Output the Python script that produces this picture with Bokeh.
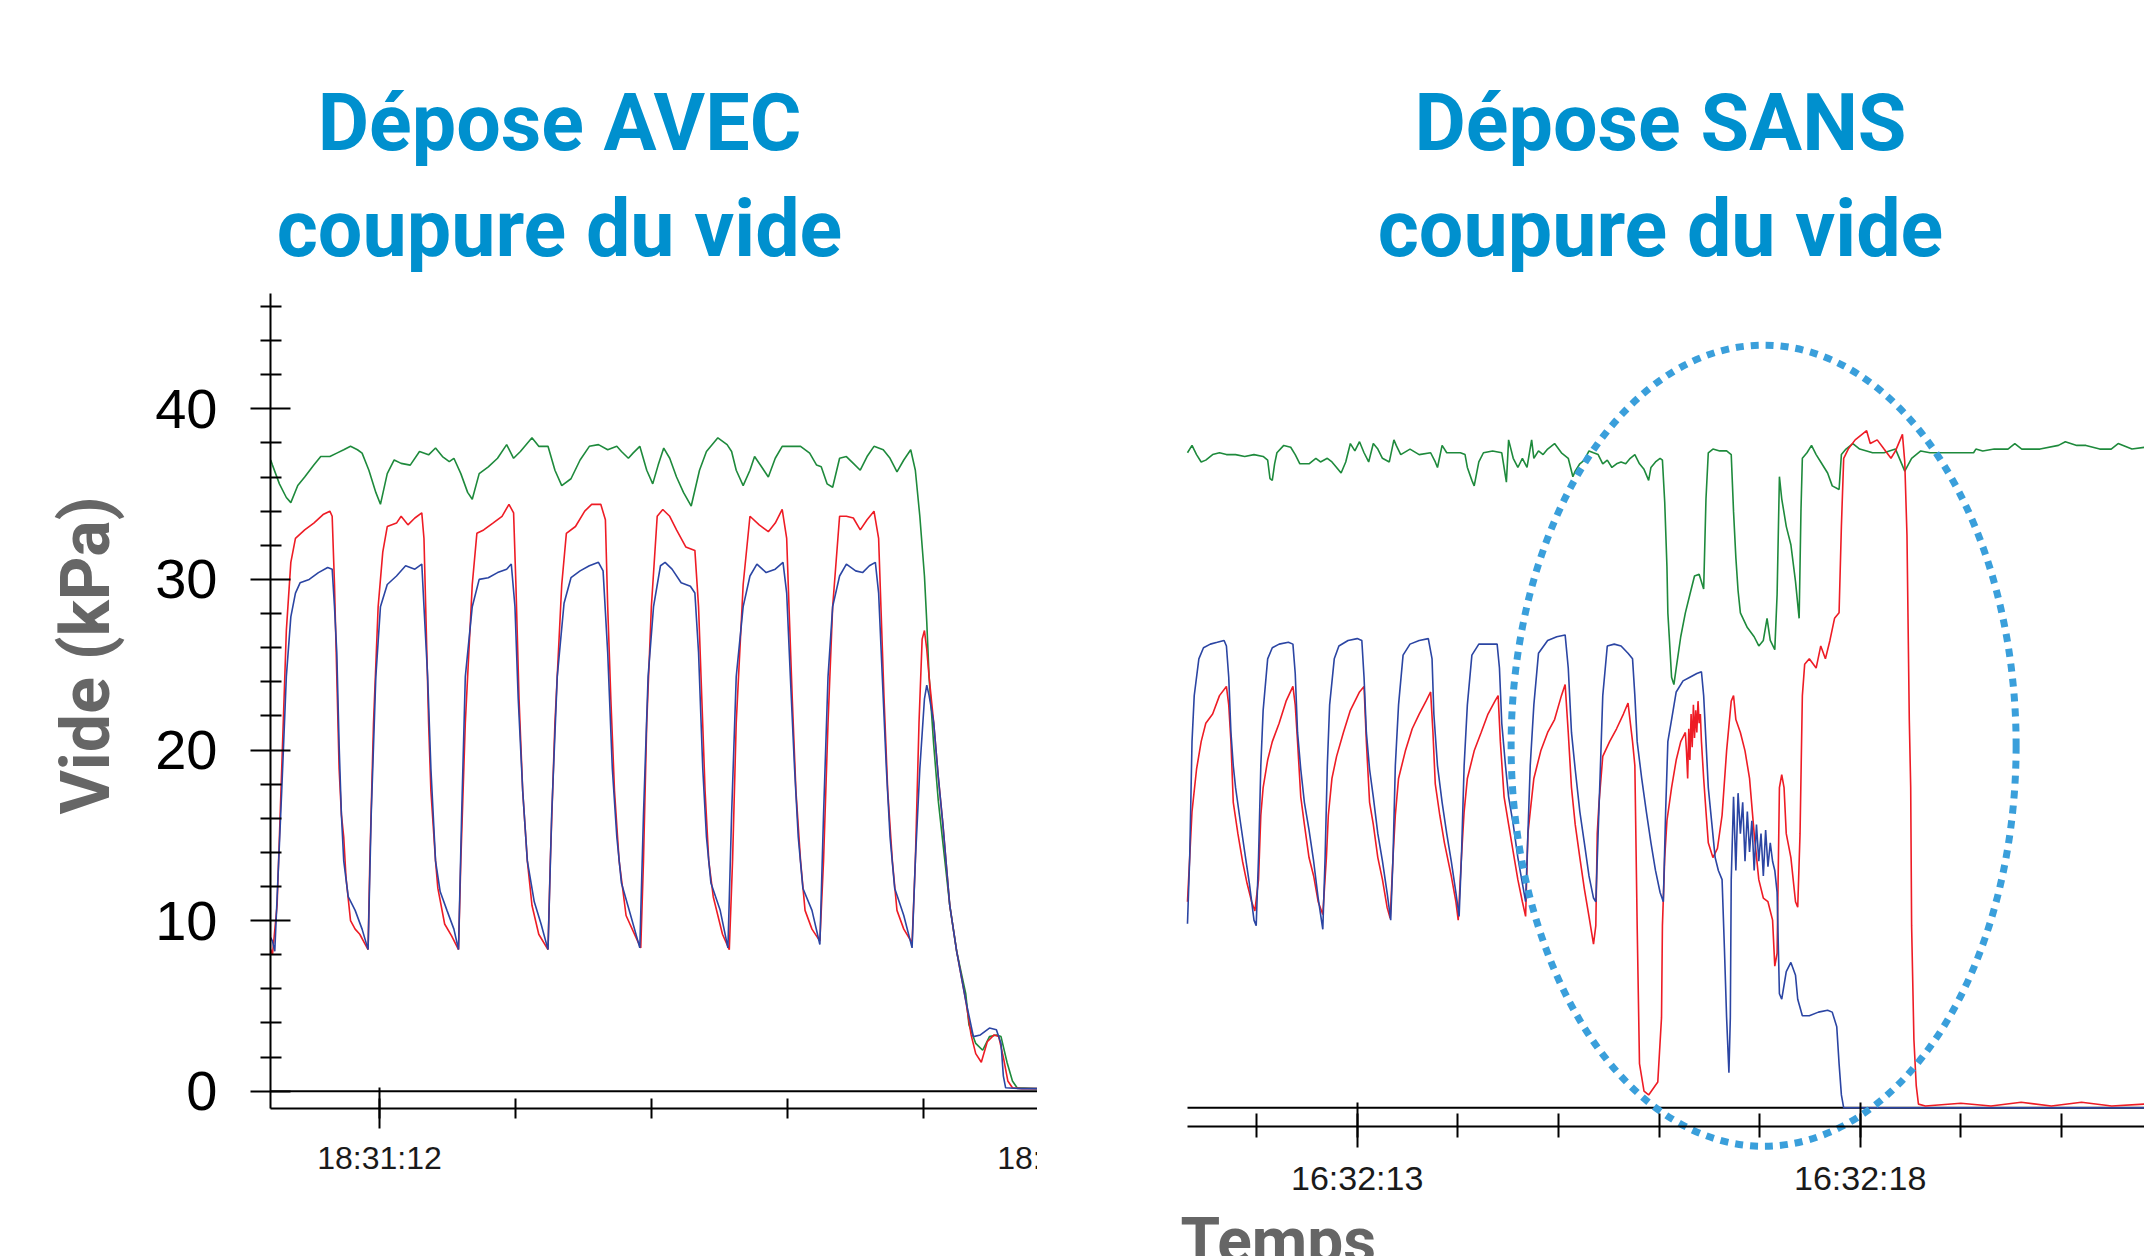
import math
from bokeh.plotting import figure
from bokeh.models import Range1d, FixedTicker, Label
from bokeh.layouts import row
from bokeh.embed import file_html
from bokeh.resources import INLINE

# ------------------------------------------------------------------ data
y_ticks = [0, 10, 20, 30, 40]
y_minor = [2, 4, 6, 8, 12, 14, 16, 18, 22, 24, 26, 28, 32, 34, 36, 38, 42, 44, 46]

avec_ticks = [12, 17]
avec_tick_labels = ["18:31:12", "18:31:17"]
avec_minor = [12, 13, 14, 15, 16]

sans_ticks = [13, 18]
sans_tick_labels = ["16:32:13", "16:32:18"]
sans_minor = [12, 13, 14, 15, 16, 17, 18, 19, 20]

# (seconds, kPa) -- "Dépose AVEC coupure du vide"
avec_vert = [
    (11.200, 37.0), (11.213, 36.7), (11.264, 35.6), (11.315, 34.8), (11.348, 34.5), (11.399, 35.5), (11.450, 36.0),
    (11.517, 36.7), (11.568, 37.2), (11.635, 37.2), (11.686, 37.4), (11.737, 37.6), (11.787, 37.8), (11.838, 37.6),
    (11.872, 37.4), (11.922, 36.4), (11.973, 35.1), (12.007, 34.4), (12.057, 36.2), (12.108, 37.0), (12.159, 36.8),
    (12.226, 36.7), (12.294, 37.5), (12.361, 37.3), (12.412, 37.7), (12.463, 37.2), (12.513, 36.9), (12.547, 37.1),
    (12.598, 36.2), (12.648, 35.1), (12.682, 34.7), (12.733, 36.2), (12.800, 36.6), (12.868, 37.1), (12.935, 37.9),
    (12.986, 37.1), (13.036, 37.5), (13.121, 38.3), (13.171, 37.8), (13.239, 37.8), (13.290, 36.4), (13.340, 35.5),
    (13.408, 35.9), (13.475, 37.0), (13.543, 37.8), (13.610, 37.9), (13.678, 37.6), (13.745, 37.8), (13.779, 37.5),
    (13.830, 37.1), (13.864, 37.4), (13.914, 37.8), (13.965, 36.4), (14.009, 35.6), (14.049, 36.7), (14.090, 37.7),
    (14.134, 37.1), (14.184, 36.0), (14.235, 35.1), (14.292, 34.3), (14.353, 36.4), (14.404, 37.5), (14.488, 38.3),
    (14.556, 37.9), (14.589, 37.5), (14.623, 36.4), (14.674, 35.5), (14.724, 36.4), (14.758, 37.2), (14.809, 36.6),
    (14.859, 36.0), (14.910, 37.1), (14.961, 37.8), (15.028, 37.8), (15.096, 37.8), (15.163, 37.4), (15.214, 36.7),
    (15.248, 36.6), (15.291, 35.6), (15.332, 35.4), (15.383, 37.1), (15.433, 37.2), (15.484, 36.8), (15.535, 36.4),
    (15.585, 37.2), (15.636, 37.8), (15.704, 37.6), (15.754, 37.1), (15.805, 36.3), (15.855, 37.0), (15.906, 37.6),
    (15.940, 36.4), (15.973, 33.7), (16.007, 30.2), (16.024, 27.5), (16.041, 24.3), (16.075, 20.3), (16.109, 17.0),
    (16.142, 14.6), (16.193, 10.9), (16.244, 8.2), (16.311, 5.7), (16.334, 3.9), (16.384, 2.8), (16.435, 2.4),
    (16.485, 3.2), (16.536, 3.3), (16.570, 3.2), (16.614, 1.7), (16.654, 0.6), (16.688, 0.2), (16.838, 0.15),
]
avec_rouge = [
    (11.200, 8.3), (11.213, 8.0), (11.247, 10.9), (11.281, 18.9), (11.315, 27.0), (11.348, 31.0), (11.382, 32.4),
    (11.450, 32.9), (11.517, 33.3), (11.585, 33.8), (11.635, 34.0), (11.652, 33.7), (11.669, 29.7), (11.686, 24.3),
    (11.703, 18.9), (11.720, 16.2), (11.737, 14.9), (11.754, 12.5), (11.787, 10.0), (11.821, 9.5), (11.855, 9.2),
    (11.889, 8.7), (11.916, 8.3),
    (11.929, 13.5), (11.956, 21.6), (11.990, 28.4), (12.024, 31.6), (12.057, 33.1), (12.125, 33.3), (12.159, 33.7),
    (12.209, 33.2), (12.260, 33.6), (12.311, 33.9), (12.327, 32.4), (12.344, 27.0), (12.361, 21.6), (12.378, 17.6),
    (12.412, 13.5), (12.429, 11.9), (12.479, 9.8), (12.530, 9.1), (12.581, 8.3),
    (12.598, 13.5), (12.631, 21.6), (12.682, 29.7), (12.716, 32.7), (12.766, 32.9), (12.834, 33.3), (12.901, 33.7),
    (12.952, 34.4), (12.986, 33.9), (13.003, 29.7), (13.026, 23.0), (13.053, 17.6), (13.087, 13.5), (13.121, 10.9),
    (13.171, 9.2), (13.239, 8.3),
    (13.256, 13.5), (13.290, 21.6), (13.340, 29.7), (13.374, 32.7), (13.441, 33.1), (13.509, 34.0), (13.560, 34.4),
    (13.627, 34.4), (13.661, 33.5), (13.678, 28.4), (13.701, 23.0), (13.728, 17.6), (13.762, 13.5), (13.813, 10.3),
    (13.864, 9.4), (13.921, 8.4),
    (13.941, 13.5), (13.965, 21.6), (13.999, 28.4), (14.042, 33.7), (14.083, 34.1), (14.134, 33.7), (14.184, 32.9),
    (14.252, 31.9), (14.319, 31.7), (14.346, 28.4), (14.370, 23.0), (14.394, 17.6), (14.421, 13.5), (14.454, 11.4),
    (14.522, 9.2), (14.572, 8.3),
    (14.596, 13.5), (14.623, 21.6), (14.674, 29.7), (14.724, 33.7), (14.792, 33.2), (14.859, 32.8), (14.910, 33.3),
    (14.961, 34.1), (14.994, 32.4), (15.011, 28.4), (15.035, 23.0), (15.062, 17.6), (15.096, 13.5), (15.129, 10.6),
    (15.180, 9.5), (15.238, 8.8),
    (15.265, 13.5), (15.298, 21.6), (15.332, 28.4), (15.383, 33.7), (15.433, 33.7), (15.484, 33.6), (15.535, 32.9),
    (15.585, 33.5), (15.636, 34.0), (15.670, 32.4), (15.687, 28.4), (15.710, 23.0), (15.737, 17.6), (15.771, 13.5),
    (15.805, 10.6), (15.855, 9.5), (15.916, 8.7),
    (15.940, 13.5), (15.967, 21.6), (15.990, 26.5), (16.007, 27.0), (16.024, 25.9), (16.041, 24.3), (16.075, 21.6),
    (16.109, 18.4), (16.142, 15.7), (16.193, 10.9), (16.244, 8.2), (16.311, 5.3), (16.350, 3.3), (16.384, 2.2),
    (16.425, 1.7), (16.469, 2.9), (16.519, 3.3), (16.553, 3.2), (16.587, 2.0), (16.620, 0.6), (16.654, 0.2),
    (16.722, 0.15), (16.838, 0.15),
]
avec_bleu = [
    (11.200, 9.0), (11.213, 8.8), (11.230, 8.2), (11.281, 17.6), (11.315, 24.3), (11.348, 27.8), (11.382, 29.2),
    (11.416, 29.8), (11.483, 30.0), (11.551, 30.4), (11.619, 30.7), (11.652, 30.6), (11.669, 28.4), (11.686, 25.7),
    (11.703, 20.3), (11.720, 16.2), (11.737, 13.5), (11.770, 11.4), (11.821, 10.6), (11.872, 9.5), (11.916, 8.3),
    (11.939, 16.2), (11.973, 24.3), (12.007, 28.4), (12.057, 29.7), (12.125, 30.2), (12.192, 30.8), (12.260, 30.6),
    (12.311, 30.9), (12.327, 28.4), (12.354, 24.3), (12.378, 18.9), (12.412, 13.5), (12.446, 11.7), (12.496, 10.6),
    (12.547, 9.5), (12.581, 8.3),
    (12.604, 16.2), (12.631, 24.3), (12.682, 28.4), (12.733, 30.0), (12.800, 30.1), (12.868, 30.4), (12.935, 30.6),
    (12.969, 30.9), (12.996, 28.4), (13.020, 23.0), (13.053, 17.6), (13.087, 13.5), (13.138, 11.1), (13.188, 9.8),
    (13.239, 8.3),
    (13.266, 16.2), (13.307, 24.3), (13.357, 28.6), (13.408, 30.1), (13.475, 30.5), (13.543, 30.8), (13.610, 31.0),
    (13.644, 30.5), (13.678, 25.7), (13.712, 18.9), (13.745, 14.9), (13.779, 12.2), (13.847, 10.3), (13.914, 8.4),
    (13.941, 16.2), (13.975, 24.3), (14.015, 28.4), (14.066, 30.8), (14.100, 31.0), (14.151, 30.6), (14.218, 29.8),
    (14.286, 29.6), (14.319, 29.2), (14.346, 25.7), (14.377, 18.9), (14.404, 14.9), (14.437, 12.2), (14.505, 10.6),
    (14.562, 8.4),
    (14.589, 16.2), (14.623, 24.3), (14.674, 28.4), (14.724, 30.2), (14.775, 30.9), (14.843, 30.4), (14.910, 30.6),
    (14.967, 31.0), (14.994, 29.2), (15.021, 24.3), (15.052, 18.9), (15.079, 14.9), (15.113, 11.9), (15.180, 10.6),
    (15.238, 8.6),
    (15.265, 16.2), (15.298, 24.3), (15.332, 28.4), (15.383, 30.2), (15.433, 30.9), (15.501, 30.5), (15.552, 30.4),
    (15.602, 30.8), (15.646, 31.0), (15.670, 29.2), (15.697, 24.3), (15.727, 18.9), (15.754, 14.9), (15.788, 11.9),
    (15.855, 10.3), (15.916, 8.4),
    (15.940, 13.5), (15.973, 18.9), (16.007, 23.0), (16.024, 23.8), (16.041, 23.2), (16.075, 21.6), (16.109, 18.4),
    (16.142, 15.7), (16.193, 10.9), (16.244, 8.2), (16.311, 5.3), (16.367, 3.2), (16.418, 3.3), (16.485, 3.7),
    (16.536, 3.6), (16.570, 2.8), (16.587, 0.9), (16.604, 0.2), (16.722, 0.15), (16.838, 0.15),
]

# (seconds, kPa) -- "Dépose SANS coupure du vide"
sans_vert = [
    (11.313, 35.6), (11.358, 36.0), (11.403, 35.5), (11.449, 35.1), (11.495, 35.2), (11.563, 35.5), (11.631, 35.6),
    (11.700, 35.5), (11.791, 35.5), (11.882, 35.4), (11.974, 35.5), (12.065, 35.4), (12.110, 35.2), (12.133, 34.2),
    (12.156, 34.1), (12.179, 35.0), (12.202, 35.6), (12.270, 36.0), (12.339, 35.9), (12.384, 35.5), (12.430, 35.0),
    (12.521, 35.0), (12.589, 35.3), (12.635, 35.1), (12.703, 35.3), (12.749, 35.1), (12.795, 34.8), (12.840, 34.5),
    (12.886, 35.1), (12.932, 36.1), (12.977, 35.7), (13.023, 36.2), (13.068, 35.6), (13.114, 35.1), (13.160, 36.1),
    (13.205, 35.8), (13.251, 35.3), (13.319, 35.1), (13.365, 36.3), (13.388, 36.0), (13.433, 35.5), (13.525, 35.8),
    (13.616, 35.5), (13.730, 35.6), (13.776, 35.1), (13.798, 34.8), (13.844, 36.0), (13.890, 35.6), (14.026, 35.6),
    (14.072, 35.5), (14.095, 34.8), (14.140, 34.1), (14.163, 33.8), (14.209, 35.1), (14.255, 35.6), (14.346, 35.7),
    (14.437, 35.6), (14.483, 34.0), (14.505, 36.3), (14.551, 35.3), (14.597, 34.8), (14.642, 35.3), (14.688, 34.8),
    (14.734, 36.3), (14.756, 35.3), (14.802, 35.7), (14.848, 35.5), (14.893, 35.8), (14.962, 36.1), (15.030, 35.6),
    (15.098, 35.3), (15.144, 34.3), (15.167, 34.6), (15.213, 35.0), (15.258, 35.2), (15.304, 35.7), (15.349, 35.6),
    (15.395, 35.5), (15.441, 35.0), (15.486, 35.2), (15.532, 34.8), (15.578, 35.0), (15.623, 35.1), (15.669, 35.0),
    (15.714, 35.3), (15.760, 35.5), (15.806, 35.0), (15.851, 34.7), (15.897, 34.1), (15.920, 34.8), (15.965, 35.1),
    (16.011, 35.3), (16.034, 35.2), (16.057, 32.9), (16.079, 29.4), (16.088, 26.9), (16.102, 25.6), (16.125, 23.4),
    (16.148, 23.0), (16.171, 23.9), (16.216, 25.6), (16.262, 26.9), (16.307, 27.9), (16.353, 28.9), (16.399, 29.0),
    (16.444, 28.2), (16.467, 33.1), (16.490, 35.6), (16.536, 35.8), (16.604, 35.7), (16.672, 35.7), (16.718, 35.5),
    (16.741, 32.4), (16.764, 29.9), (16.786, 28.1), (16.809, 26.9), (16.878, 26.1), (16.946, 25.6), (16.992, 25.1),
    (17.037, 25.4), (17.074, 26.6), (17.106, 25.4), (17.151, 24.9), (17.174, 27.9), (17.197, 34.3), (17.220, 33.1),
    (17.265, 31.6), (17.311, 30.6), (17.357, 28.6), (17.393, 26.6), (17.411, 32.4), (17.425, 35.3), (17.471, 35.6),
    (17.516, 36.0), (17.562, 35.5), (17.608, 35.1), (17.676, 34.5), (17.722, 33.8), (17.790, 33.6), (17.813, 35.5),
    (17.859, 35.8), (17.927, 36.1), (17.995, 35.8), (18.064, 35.7), (18.123, 35.6), (18.237, 35.6), (18.351, 35.8),
    (18.443, 34.6), (18.511, 35.3), (18.602, 35.7), (18.693, 35.6), (18.830, 35.6), (18.922, 35.6), (19.127, 35.6),
    (19.150, 35.8), (19.218, 35.7), (19.332, 35.8), (19.469, 35.8), (19.537, 36.1), (19.606, 35.8), (19.788, 35.8),
    (19.971, 36.0), (20.039, 36.2), (20.153, 36.0), (20.244, 36.0), (20.381, 35.8), (20.495, 35.8), (20.564, 36.1),
    (20.701, 35.8), (20.830, 35.9),
]
sans_rouge = [
    (11.313, 11.2), (11.335, 13.6), (11.358, 16.1), (11.403, 18.4), (11.449, 19.9), (11.495, 20.9), (11.563, 21.4),
    (11.631, 22.4), (11.700, 22.9), (11.723, 21.9), (11.745, 19.9), (11.768, 16.6), (11.814, 14.9), (11.860, 13.4),
    (11.905, 12.2), (11.951, 11.2), (11.983, 10.7),
    (12.019, 12.4), (12.042, 15.9), (12.065, 17.4), (12.110, 18.9), (12.156, 19.9), (12.224, 20.9), (12.293, 22.1),
    (12.361, 22.9), (12.384, 21.9), (12.407, 19.9), (12.439, 16.9), (12.475, 15.4), (12.521, 13.6), (12.567, 12.6),
    (12.612, 11.2), (12.658, 10.5),
    (12.694, 13.6), (12.713, 15.9), (12.749, 17.9), (12.795, 19.1), (12.863, 20.4), (12.932, 21.6), (13.023, 22.6),
    (13.068, 22.9), (13.091, 19.9), (13.123, 16.6), (13.160, 15.4), (13.205, 13.6), (13.251, 12.4), (13.297, 10.9),
    (13.328, 10.3),
    (13.356, 13.6), (13.379, 15.9), (13.411, 17.9), (13.479, 19.4), (13.547, 20.6), (13.616, 21.4), (13.684, 22.1),
    (13.730, 22.6), (13.753, 20.4), (13.776, 17.6), (13.821, 15.9), (13.867, 14.4), (13.935, 12.6), (13.981, 11.2),
    (14.004, 10.2),
    (14.036, 13.6), (14.063, 16.1), (14.095, 17.9), (14.163, 19.4), (14.232, 20.4), (14.300, 21.4), (14.369, 22.1),
    (14.401, 22.4), (14.423, 19.9), (14.460, 16.9), (14.505, 15.4), (14.551, 13.9), (14.597, 12.4), (14.642, 11.2),
    (14.674, 10.4),
    (14.697, 14.9), (14.720, 16.1), (14.756, 17.9), (14.825, 19.4), (14.893, 20.4), (14.962, 21.1), (15.030, 22.4),
    (15.067, 23.0), (15.098, 20.4), (15.130, 17.4), (15.167, 15.4), (15.213, 13.6), (15.258, 11.9), (15.304, 10.4),
    (15.349, 8.9), (15.372, 9.9),
    (15.386, 14.9), (15.404, 16.6), (15.441, 19.1), (15.509, 19.9), (15.578, 20.6), (15.646, 21.4), (15.692, 22.0),
    (15.737, 19.9), (15.760, 18.6), (15.783, 9.9), (15.806, 2.4), (15.851, 0.9), (15.897, 0.7), (15.988, 1.4),
    (16.025, 4.9), (16.034, 9.9), (16.057, 13.6), (16.079, 15.6), (16.125, 17.4), (16.171, 18.9), (16.216, 19.9),
    (16.262, 20.4), (16.273, 19.4), (16.285, 17.9), (16.296, 20.6), (16.307, 18.9), (16.319, 21.4), (16.330, 19.6),
    (16.342, 21.9), (16.353, 20.1), (16.365, 21.6), (16.376, 20.4), (16.388, 22.1), (16.399, 20.9), (16.411, 21.4),
    (16.422, 19.9), (16.444, 17.9), (16.467, 16.1), (16.490, 14.4), (16.536, 13.6), (16.581, 14.1), (16.627, 15.9),
    (16.672, 19.4), (16.718, 22.1), (16.741, 22.4), (16.764, 21.1), (16.809, 20.4), (16.855, 19.4), (16.900, 17.9),
    (16.946, 14.9), (16.992, 12.4), (17.037, 11.4), (17.083, 11.2), (17.129, 10.2), (17.151, 7.7), (17.174, 8.4),
    (17.197, 17.4), (17.220, 18.1), (17.243, 17.4), (17.265, 14.9), (17.311, 13.6), (17.357, 11.2), (17.379, 10.9),
    (17.402, 14.9), (17.425, 22.4), (17.448, 24.1), (17.494, 24.4), (17.562, 23.9), (17.608, 25.1), (17.654, 24.4),
    (17.699, 25.4), (17.745, 26.6), (17.790, 26.9), (17.813, 31.6), (17.836, 35.3), (17.881, 35.8), (17.950, 36.3),
    (18.018, 36.6), (18.064, 36.8), (18.100, 36.1), (18.169, 36.3), (18.237, 35.8), (18.306, 35.3), (18.351, 35.7),
    (18.397, 36.3), (18.420, 36.6), (18.443, 35.1), (18.465, 31.1), (18.488, 21.1), (18.502, 17.4), (18.511, 9.9),
    (18.534, 3.7), (18.557, 1.2), (18.579, 0.2), (18.648, 0.1), (19.000, 0.25), (19.300, 0.1), (19.600, 0.3),
    (19.900, 0.1), (20.200, 0.3), (20.500, 0.1), (20.830, 0.2),
]
sans_bleu = [
    (11.313, 10.0), (11.335, 13.6), (11.358, 19.9), (11.380, 22.4), (11.426, 24.4), (11.472, 25.0), (11.540, 25.2),
    (11.609, 25.3), (11.677, 25.4), (11.700, 25.1), (11.723, 23.4), (11.745, 20.4), (11.768, 18.6), (11.791, 17.4),
    (11.837, 15.6), (11.882, 13.9), (11.928, 12.2), (11.974, 10.2), (11.996, 9.9),
    (12.019, 13.6), (12.042, 18.6), (12.065, 21.6), (12.110, 24.4), (12.156, 25.0), (12.224, 25.2), (12.316, 25.3),
    (12.361, 25.2), (12.384, 23.6), (12.407, 20.4), (12.439, 18.4), (12.475, 16.6), (12.521, 15.1), (12.567, 13.4),
    (12.612, 11.4), (12.658, 9.7),
    (12.681, 13.6), (12.703, 18.6), (12.726, 21.9), (12.772, 24.4), (12.818, 25.1), (12.909, 25.4), (13.000, 25.5),
    (13.046, 25.4), (13.068, 23.4), (13.091, 20.4), (13.123, 18.4), (13.160, 16.9), (13.205, 14.9), (13.251, 13.4),
    (13.297, 11.7), (13.333, 10.2),
    (13.356, 13.6), (13.379, 18.6), (13.411, 21.9), (13.456, 24.6), (13.525, 25.2), (13.616, 25.4), (13.707, 25.5),
    (13.744, 24.4), (13.762, 21.4), (13.798, 18.6), (13.844, 16.6), (13.890, 14.9), (13.935, 13.4), (13.981, 11.7),
    (14.013, 10.4),
    (14.036, 13.6), (14.063, 18.6), (14.095, 21.9), (14.140, 24.6), (14.209, 25.2), (14.300, 25.2), (14.391, 25.2),
    (14.414, 23.9), (14.437, 20.9), (14.474, 18.6), (14.505, 16.9), (14.551, 15.4), (14.597, 13.6), (14.642, 12.2),
    (14.674, 11.2),
    (14.697, 14.9), (14.720, 18.6), (14.756, 21.9), (14.802, 24.7), (14.893, 25.4), (14.984, 25.6), (15.067, 25.7),
    (15.098, 23.9), (15.130, 20.4), (15.167, 18.4), (15.213, 16.1), (15.258, 14.4), (15.304, 12.6), (15.349, 11.4),
    (15.372, 11.2),
    (15.395, 14.9), (15.418, 18.6), (15.441, 22.4), (15.486, 25.1), (15.555, 25.2), (15.623, 25.1), (15.692, 24.7),
    (15.737, 24.4), (15.760, 22.4), (15.783, 19.9), (15.828, 17.9), (15.874, 16.1), (15.920, 14.4), (15.965, 12.9),
    (16.011, 11.7), (16.043, 11.2),
    (16.066, 16.1), (16.088, 19.9), (16.125, 21.1), (16.171, 22.6), (16.239, 23.2), (16.307, 23.4), (16.376, 23.6),
    (16.422, 23.7), (16.444, 22.4), (16.467, 19.9), (16.490, 17.4), (16.526, 15.4), (16.558, 13.6), (16.590, 12.9),
    (16.627, 12.4), (16.650, 8.7), (16.672, 4.9), (16.695, 1.9), (16.709, 4.9), (16.718, 12.4), (16.741, 16.9),
    (16.764, 12.9), (16.786, 17.1), (16.809, 14.9), (16.832, 16.6), (16.855, 13.4), (16.878, 16.1), (16.900, 13.9),
    (16.923, 15.6), (16.946, 12.9), (16.969, 15.4), (16.992, 13.4), (17.014, 14.9), (17.037, 12.6), (17.060, 15.1),
    (17.083, 13.1), (17.106, 14.4), (17.129, 13.4), (17.151, 12.9), (17.174, 11.7), (17.197, 6.2), (17.220, 5.9),
    (17.265, 7.4), (17.311, 7.9), (17.357, 7.2), (17.379, 5.9), (17.425, 5.0), (17.494, 5.0), (17.585, 5.2),
    (17.676, 5.3), (17.722, 5.2), (17.767, 4.4), (17.790, 2.4), (17.813, 0.7), (17.836, 0.0), (20.830, 0.0),
]

# highlighted zone (dotted ellipse) of the "SANS" panel: time span and kPa span
zone_t = [14.53, 19.55]
zone_kpa = [-2.09, 41.45]

# ------------------------------------------------------------------ styles
RED, BLUE, GREEN = "#EE1C25", "#2B45A3", "#1E8A3C"
TITLE_BLUE = "#0090CE"
ZONE_BLUE = "#3A9FDB"
GREY = "#666666"
HEAD = "Roboto"
SANS = "Liberation Sans"

# ------------------------------------------------------------------ geometry (page px)
PAGE, H, W = 0, 1256, 2144
TOP = 293
L_LEFT, L_RIGHT, L_BOTTOM = 270, 1037, 1108
L_ZERO, L_KPA, L_T0, L_SEC = 1090.7, 17.06, 379.0, 136.0
R_LEFT, R_BOTTOM = 1187, 1158
R_ZERO, R_KPA, R_T0, R_SEC = 1107.3, 18.4, 1356.7, 100.6
R_AXIS = 1125.7


def lx(px): return 12 + (px - L_T0) / L_SEC
def ly(py): return (L_ZERO - py) / L_KPA
def rx(px): return 13 + (px - R_T0) / R_SEC
def ry(py): return (R_ZERO - py) / R_KPA


def base_fig(width, xr, yr, **kw):
    # the frame fills the whole canvas; axes are placed with fixed_location
    p = figure(width=width, height=H, x_range=xr, y_range=yr,
               output_backend="svg", toolbar_location=None,
               min_border=0, min_border_left=0, min_border_right=0,
               min_border_top=0, min_border_bottom=0, **kw)
    p.xgrid.visible = False
    p.ygrid.visible = False
    p.outline_line_color = None
    p.background_fill_color = "white"
    p.border_fill_color = "white"
    return p


def style_axis(ax, tin, tout, mtin, mtout):
    ax.axis_line_color = "black"
    ax.axis_line_width = 2
    ax.major_tick_line_color = "black"
    ax.major_tick_line_width = 2
    ax.minor_tick_line_color = "black"
    ax.minor_tick_line_width = 2
    ax.major_tick_in, ax.major_tick_out = tin, tout
    ax.minor_tick_in, ax.minor_tick_out = mtin, mtout


def draw(p, series, color):
    t = [a for a, _ in series]
    v = [b for _, b in series]
    p.line(t, v, line_color=color, line_width=1.6)


def head(p, fx, fy, px, py, text, size, color, **kw):
    p.add_layout(Label(x=fx(px), y=fy(py), text=text, text_font=HEAD, text_font_size=f"{size}px",
                       text_font_style="bold", text_color=color, text_baseline="middle", **kw))


# ------------------------------------------------------------------ left panel
left = base_fig(L_RIGHT - PAGE, Range1d(lx(PAGE), lx(L_RIGHT)), Range1d(ly(PAGE + H), ly(PAGE)))

ya = left.yaxis[0]
ya.ticker = FixedTicker(ticks=y_ticks, minor_ticks=y_minor)
ya.fixed_location = lx(L_LEFT)
ya.bounds = (ly(L_BOTTOM), ly(TOP))
style_axis(ya, 20, 20, 11, 10)
ya.major_label_text_font = SANS
ya.major_label_text_font_size = "56px"
ya.major_label_text_color = "black"
ya.major_label_standoff = 33

xa = left.xaxis[0]
xa.ticker = FixedTicker(ticks=avec_ticks, minor_ticks=avec_minor)
xa.major_label_overrides = dict(zip(avec_ticks, avec_tick_labels))
xa.fixed_location = ly(L_BOTTOM)
xa.bounds = (lx(L_LEFT), lx(L_RIGHT))
style_axis(xa, 21, 20, 10, 10)
xa.major_label_text_font = SANS
xa.major_label_text_font_size = "32px"
xa.major_label_text_color = "#1a1a1a"
xa.major_label_standoff = 11

# zero line across the plotting area
left.segment(x0=[lx(L_LEFT)], y0=[0], x1=[lx(L_RIGHT)], y1=[0], line_color="black", line_width=2)
draw(left, avec_vert, GREEN)
draw(left, avec_rouge, RED)
draw(left, avec_bleu, BLUE)

# label of the next major tick, cut by the panel edge
left.add_layout(Label(x=avec_ticks[1], y=ly(L_BOTTOM + 20 + 11), text=avec_tick_labels[1],
                      text_font=SANS, text_font_size="32px", text_color="#1a1a1a",
                      text_align="center", text_baseline="top"))

head(left, lx, ly, 85, 655, "Vide (kPa)", 68, GREY, angle=math.pi / 2, text_align="center")
head(left, lx, ly, 559, 122, "Dépose AVEC", 79, TITLE_BLUE, text_align="center")
head(left, lx, ly, 559, 228, "coupure du vide", 79, TITLE_BLUE, text_align="center")

# ------------------------------------------------------------------ right panel
right = base_fig(W - L_RIGHT, Range1d(rx(L_RIGHT), rx(W)), Range1d(ry(PAGE + H), ry(PAGE)),
                 y_axis_location=None)

xb = right.xaxis[0]
xb.ticker = FixedTicker(ticks=sans_ticks, minor_ticks=sans_minor)
xb.major_label_overrides = dict(zip(sans_ticks, sans_tick_labels))
xb.fixed_location = ry(R_AXIS)
xb.bounds = (rx(R_LEFT), rx(W))
style_axis(xb, 24, 21, 13, 11)
xb.major_label_text_font = SANS
xb.major_label_text_font_size = "34px"
xb.major_label_text_color = "#1a1a1a"
xb.major_label_standoff = 12

right.segment(x0=[rx(R_LEFT)], y0=[0], x1=[rx(W)], y1=[0], line_color="black", line_width=2)
draw(right, sans_vert, GREEN)
draw(right, sans_rouge, RED)
draw(right, sans_bleu, BLUE)

right.ellipse(x=[sum(zone_t) / 2], y=[sum(zone_kpa) / 2],
              width=[zone_t[1] - zone_t[0]], height=[zone_kpa[1] - zone_kpa[0]],
              fill_color=None, line_color=ZONE_BLUE, line_width=7, line_dash="8 7")

head(right, rx, ry, 1660, 122, "Dépose SANS", 79, TITLE_BLUE, text_align="center")
head(right, rx, ry, 1660, 228, "coupure du vide", 79, TITLE_BLUE, text_align="center")
head(right, rx, ry, 1180, 1241, "Temps", 64, GREY, text_align="left")

layout = row(left, right)
open("out.html", "w").write(file_html(layout, INLINE))
